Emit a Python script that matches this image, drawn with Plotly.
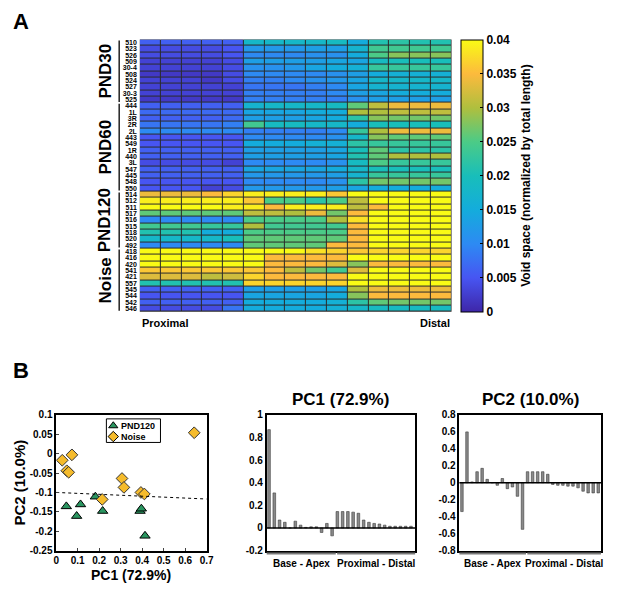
import plotly.graph_objects as go

# page has an 8px body margin, so the figure is 16px smaller than the window
PAD = 8
W, H = 617 - 2 * PAD, 595 - 2 * PAD

# ---- panel A data: void space (x0.001) per row, 15 segments proximal -> distal
pnd30_ids = ["510", "523", "526", "509", "30-4", "508", "524", "527", "30-3", "525"]
pnd30_void = [
    [6, 6, 6, 6, 6, 18, 18, 18, 18, 19, 15, 21, 22, 21, 21],
    [4, 4, 4, 4, 5, 12, 12, 12, 13, 13, 17, 24, 24, 24, 24],
    [4, 4, 4, 4, 5, 10, 10, 10, 11, 11, 15, 25, 28, 28, 28],
    [3, 3, 3, 3, 4, 13, 13, 13, 13, 14, 14, 19, 20, 20, 20],
    [3, 3, 3, 3, 4, 11, 11, 12, 14, 15, 16, 23, 23, 23, 23],
    [2, 2, 2, 2, 4, 10, 10, 10, 10, 11, 13, 15, 16, 16, 16],
    [3, 3, 3, 2, 4, 9, 9, 10, 11, 12, 14, 18, 18, 18, 18],
    [3, 3, 3, 3, 3, 8, 8, 8, 9, 10, 14, 17, 17, 17, 17],
    [3, 3, 3, 3, 3, 9, 9, 9, 9, 10, 13, 14, 15, 15, 15],
    [2, 2, 2, 2, 2, 9, 9, 9, 9, 9, 11, 13, 13, 13, 13],
]
pnd60_ids = ["444", "1L", "3R", "2R", "2L", "443", "549", "1R", "440", "3L", "547", "445", "548", "550"]
pnd60_void = [
    [6, 6, 6, 6, 6, 17, 18, 18, 18, 19, 26, 31, 34, 34, 34],
    [7, 7, 7, 7, 7, 14, 14, 14, 15, 15, 30, 30, 31, 31, 31],
    [6, 6, 6, 6, 7, 13, 13, 13, 14, 15, 22, 28, 27, 27, 27],
    [8, 8, 8, 8, 9, 24, 19, 19, 18, 18, 15, 20, 20, 20, 20],
    [10, 10, 10, 10, 10, 9, 9, 9, 9, 10, 23, 30, 34, 34, 34],
    [5, 5, 5, 5, 5, 10, 10, 10, 10, 11, 18, 28, 26, 26, 26],
    [5, 5, 5, 5, 5, 15, 15, 15, 16, 16, 22, 23, 23, 23, 23],
    [6, 6, 6, 6, 6, 13, 13, 13, 13, 14, 20, 26, 22, 22, 22],
    [6, 6, 6, 6, 6, 13, 13, 13, 13, 14, 21, 26, 30, 30, 30],
    [4, 4, 4, 4, 3, 10, 10, 10, 10, 11, 19, 25, 23, 23, 23],
    [6, 6, 6, 6, 6, 14, 14, 14, 14, 15, 18, 20, 20, 20, 20],
    [6, 6, 6, 6, 6, 12, 12, 12, 12, 13, 17, 23, 23, 23, 23],
    [5, 5, 5, 5, 5, 10, 10, 10, 10, 11, 22, 27, 27, 27, 27],
    [5, 5, 5, 3, 4, 12, 12, 12, 12, 13, 14, 15, 15, 15, 15],
]
pnd120_ids = ["514", "512", "511", "517", "516", "515", "518", "520", "492"]
pnd120_void = [
    [34, 34, 34, 35, 37, 39, 39, 39, 39, 36, 40, 40, 40, 40, 40],
    [39, 39, 39, 39, 39, 36, 25, 25, 22, 25, 31, 40, 40, 40, 40],
    [40, 40, 40, 40, 39, 39, 35, 39, 39, 39, 31, 35, 40, 40, 40],
    [26, 26, 26, 26, 26, 31, 31, 30, 34, 27, 35, 40, 40, 40, 40],
    [10, 10, 10, 10, 10, 25, 25, 25, 25, 30, 38, 40, 40, 40, 40],
    [24, 24, 24, 23, 23, 30, 24, 24, 24, 24, 35, 40, 40, 40, 40],
    [21, 21, 21, 15, 15, 25, 25, 25, 25, 25, 35, 40, 40, 40, 40],
    [18, 18, 18, 18, 20, 26, 26, 26, 26, 26, 35, 40, 40, 40, 40],
    [10, 10, 10, 10, 10, 26, 26, 26, 26, 35, 35, 40, 40, 40, 40],
]
noise_ids = ["418", "416", "420", "541", "421", "557", "545", "544", "542", "546"]
noise_void = [
    [40, 40, 40, 40, 40, 40, 40, 40, 38, 37, 36, 37, 37, 37, 37],
    [40, 40, 40, 40, 40, 40, 35, 35, 35, 35, 40, 40, 40, 40, 40],
    [40, 40, 40, 40, 40, 40, 35, 35, 35, 33, 28, 35, 35, 35, 35],
    [36, 36, 36, 36, 36, 36, 35, 31, 27, 24, 33, 40, 40, 40, 40],
    [33, 33, 33, 31, 32, 37, 35, 35, 35, 35, 40, 40, 40, 40, 40],
    [21, 21, 21, 21, 21, 37, 37, 37, 37, 37, 40, 40, 40, 40, 40],
    [6, 6, 6, 6, 6, 13, 13, 13, 13, 14, 30, 34, 34, 34, 34],
    [5, 5, 5, 5, 5, 14, 14, 14, 14, 15, 28, 35, 35, 35, 35],
    [6, 6, 6, 6, 6, 15, 15, 15, 15, 16, 22, 26, 27, 27, 27],
    [4, 4, 4, 4, 8, 15, 15, 15, 15, 16, 18, 19, 19, 19, 19],
]
groups = [("PND30", pnd30_ids, pnd30_void), ("PND60", pnd60_ids, pnd60_void),
          ("PND120", pnd120_ids, pnd120_void), ("Noise", noise_ids, noise_void)]
cbar_ticks = [0, 0.005, 0.01, 0.015, 0.02, 0.025, 0.03, 0.035, 0.04]

# ---- panel B data
pnd120_pc1 = [0.047, 0.113, 0.095, 0.182, 0.216, 0.390, 0.396, 0.413]
pnd120_pc2 = [-0.136, -0.131, -0.161, -0.111, -0.148, -0.148, -0.142, -0.212]
noise_pc1 = [0.028, 0.073, 0.049, 0.058, 0.306, 0.315, 0.214, 0.394, 0.410, 0.642]
noise_pc2 = [-0.017, -0.003, -0.044, -0.048, -0.064, -0.087, -0.118, -0.100, -0.104, 0.054]
fit_x = [0, 0.7]
fit_y = [-0.100, -0.117]

pc1_base_apex = [0.87, 0.31, 0.07, 0.05, 0.0, 0.06, 0.025, 0.005, 0.01, 0.01, -0.04, 0.04, -0.07]
pc1_prox_dist = [0.145, 0.145, 0.145, 0.14, 0.13, 0.07, 0.05, 0.04, 0.035, 0.025, 0.015, 0.015, 0.015, 0.015, 0.015]
pc2_base_apex = [-0.34, 0.60, 0.01, 0.13, 0.17, 0.04, 0.0, -0.03, 0.05, -0.07, -0.05, -0.16, -0.55]
pc2_prox_dist = [0.13, 0.13, 0.13, 0.13, 0.10, -0.02, -0.03, -0.03, -0.04, -0.04, -0.06, -0.10, -0.12, -0.12, -0.12]

parula = [
    [0.0, "rgb(62,38,168)"], [0.125, "rgb(71,85,242)"], [0.25, "rgb(45,138,243)"],
    [0.375, "rgb(20,172,220)"], [0.5, "rgb(24,190,186)"], [0.625, "rgb(75,203,135)"],
    [0.75, "rgb(175,191,62)"], [0.875, "rgb(252,186,61)"], [1.0, "rgb(249,251,21)"],
]
GREEN, GOLD = "#2a9560", "#f5bb2c"


def px(x):
    return (x - PAD) / W


def py(y):
    return 1 - (y - PAD) / H


FONT = "Arial"
BOLD = dict(family=FONT, color="black", weight="bold")

row_ids, z = [], []
for name, ids, vals in groups:
    row_ids += ids
    z += [[v / 1000 for v in r] for r in vals]
nrow = len(row_ids)
ncol = len(z[0])

fig = go.Figure()

fig.add_trace(go.Heatmap(
    z=z, x=list(range(ncol)), y=list(range(nrow)), zmin=0, zmax=0.04,
    colorscale=parula, xgap=1, ygap=1, xaxis="x", yaxis="y",
    colorbar=dict(x=px(466), xanchor="left", y=py(35), yanchor="top",
                  len=277 / H, lenmode="fraction", thickness=22, xpad=0, ypad=0,
                  outlinecolor="black", outlinewidth=1,
                  tickvals=cbar_ticks, ticktext=[f"{t:g}" for t in cbar_ticks],
                  ticks="inside", ticklen=3, tickcolor="black",
                  tickfont=dict(size=12, **BOLD),
                  title=dict(text="Void space (normalized by total length)", side="right",
                             font=dict(size=12, **BOLD))),
))

# scatter
fig.add_trace(go.Scatter(x=pnd120_pc1, y=pnd120_pc2, mode="markers", name="PND120",
                         xaxis="x2", yaxis="y2", showlegend=False,
                         marker=dict(symbol="triangle-up", size=9, color=GREEN,
                                     line=dict(color="black", width=1))))
fig.add_trace(go.Scatter(x=noise_pc1, y=noise_pc2, mode="markers", name="Noise",
                         xaxis="x2", yaxis="y2", showlegend=False,
                         marker=dict(symbol="diamond", size=9, color=GOLD,
                                     line=dict(color="#333333", width=1))))
fig.add_trace(go.Scatter(x=fit_x, y=fit_y, mode="lines", showlegend=False,
                         xaxis="x2", yaxis="y2",
                         line=dict(color="black", width=1, dash="dot")))

# loadings
for ax, ba, pd_ in [("3", pc1_base_apex, pc1_prox_dist), ("4", pc2_base_apex, pc2_prox_dist)]:
    vals = ba + pd_
    fig.add_trace(go.Bar(x=list(range(len(vals))), y=vals, width=0.5, showlegend=False,
                         xaxis="x" + ax, yaxis="y" + ax,
                         marker=dict(color="#8a8a8a", line=dict(color="#3a3a3a", width=0.6))))

# hand-made legend symbols, placed on a pixel overlay axis
legend_names = ["PND120", "Noise"]
legend_sym = ["triangle-up", "diamond"]
legend_col = [GREEN, GOLD]
leg_x, leg_y0, leg_dy = 112, 428, 11
fig.add_trace(go.Scatter(x=[leg_x] * 2, y=[leg_y0, leg_y0 + leg_dy], mode="markers",
                         xaxis="x5", yaxis="y5", showlegend=False, hoverinfo="skip",
                         marker=dict(symbol=legend_sym, size=8, color=legend_col,
                                     line=dict(color="black", width=1))))

heat_x = [px(139), px(456)]
heat_y = [py(312), py(35)]
sc_y = [py(555), py(417)]
dom = {"2": [px(54), px(207)], "3": [px(268), px(419)], "4": [px(464), px(608)]}
bar_xr = {"3": [-0.45, 27.8], "4": [-0.5, 27.55]}

box = dict(showline=True, mirror=True, linecolor="black", linewidth=1.5,
           showgrid=False, zeroline=False)

fig.update_layout(
    width=W, height=H, margin=dict(l=0, r=0, t=0, b=0),
    paper_bgcolor="white", plot_bgcolor="rgba(0,0,0,0)", showlegend=False,
    font=dict(family=FONT, color="black"),
    xaxis=dict(domain=heat_x, anchor="y", range=[-0.5, ncol - 0.5], showticklabels=False,
               showgrid=False, zeroline=False, ticks=""),
    yaxis=dict(domain=heat_y, anchor="x", range=[nrow - 0.5, -0.5], tickmode="array",
               tickvals=list(range(nrow)), ticktext=row_ids, ticks="",
               tickfont=dict(size=7, **BOLD), ticklabelstandoff=2,
               showgrid=False, zeroline=False),
    xaxis2=dict(domain=dom["2"], anchor="y2", range=[0, 0.7], tickvals=[0, 0.1, 0.2, 0.3, 0.4, 0.5, 0.6, 0.7],
                ticktext=["0", "0.1", "0.2", "0.3", "0.4", "0.5", "0.6", "0.7"],
                ticks="inside", ticklen=3, tickfont=dict(size=10, **BOLD), **box),
    yaxis2=dict(domain=sc_y, anchor="x2", range=[-0.25, 0.1],
                tickvals=[0.1, 0.05, 0, -0.05, -0.1, -0.15, -0.2, -0.25],
                ticktext=["0.1", "0.05", "0", "-0.05", "-0.1", "-0.15", "-0.2", "-0.25"],
                ticks="inside", ticklen=3, tickfont=dict(size=10, **BOLD), **box),
    xaxis3=dict(domain=dom["3"], anchor="y3", range=bar_xr["3"], showticklabels=False, ticks="", **box),
    yaxis3=dict(domain=sc_y, anchor="x3", range=[-0.2, 1], tickvals=[1, 0.8, 0.6, 0.4, 0.2, 0, -0.2],
                ticktext=["1", "0.8", "0.6", "0.4", "0.2", "0", "-0.2"], ticks="",
                tickfont=dict(size=10, **BOLD), **box),
    xaxis4=dict(domain=dom["4"], anchor="y4", range=bar_xr["4"], showticklabels=False, ticks="", **box),
    yaxis4=dict(domain=sc_y, anchor="x4", range=[-0.8, 0.8],
                tickvals=[0.8, 0.6, 0.4, 0.2, 0, -0.2, -0.4, -0.6, -0.8],
                ticktext=["0.8", "0.6", "0.4", "0.2", "0", "-0.2", "-0.4", "-0.6", "-0.8"], ticks="",
                tickfont=dict(size=10, **BOLD), **box),
    xaxis5=dict(domain=[0, 1], anchor="y5", range=[PAD, PAD + W], visible=False, fixedrange=True),
    yaxis5=dict(domain=[0, 1], anchor="x5", range=[PAD + H, PAD], visible=False, fixedrange=True),
)

shapes = []
ann = []
# dark grid behind heatmap cells
shapes.append(dict(type="rect", xref="paper", yref="paper", x0=heat_x[0], x1=heat_x[1],
                   y0=heat_y[0], y1=heat_y[1], fillcolor="#2b2b2b", line=dict(width=0), layer="below"))

# group brackets and labels
start = 0
for name, ids, vals in groups:
    end = start + len(ids) - 1
    shapes.append(dict(type="line", xref="paper", yref="y", x0=px(118), x1=px(118),
                       y0=start - 0.35, y1=end + 0.35, line=dict(color="black", width=1.3)))
    ann.append(dict(text=name, xref="paper", yref="y", x=px(104), y=(start + end) / 2,
                    xanchor="center", yanchor="middle",
                    textangle=-90, showarrow=False, font=dict(size=17, **BOLD)))
    start = end + 1

ann.append(dict(text="Proximal", xref="paper", yref="paper", x=heat_x[0], y=py(315),
                xanchor="left", yanchor="top", showarrow=False, font=dict(size=11, **BOLD)))
ann.append(dict(text="Distal", xref="paper", yref="paper", x=heat_x[1], y=py(315),
                xanchor="right", yanchor="top", showarrow=False, font=dict(size=11, **BOLD)))

ann.append(dict(text="A", xref="paper", yref="paper", x=px(PAD), y=py(2), xanchor="left",
                yanchor="top", showarrow=False, font=dict(size=22, **BOLD)))
ann.append(dict(text="B", xref="paper", yref="paper", x=px(PAD), y=py(357), xanchor="left",
                yanchor="top", showarrow=False, font=dict(size=22, **BOLD)))

ann.append(dict(text="PC1 (72.9%)", xref="paper", yref="paper", x=sum(dom["2"]) / 2, y=py(590),
                xanchor="center", yanchor="bottom", showarrow=False, font=dict(size=14, **BOLD)))
ann.append(dict(text="PC2 (10.0%)", xref="paper", yref="paper", x=px(17), y=sum(sc_y) / 2,
                xanchor="center", yanchor="middle",
                textangle=-90, showarrow=False, font=dict(size=15, **BOLD)))

# legend box (under the symbols) and names
shapes.append(dict(type="rect", xref="paper", yref="paper", x0=px(105), x1=px(160),
                   y0=py(445), y1=py(421), fillcolor="white", layer="below",
                   line=dict(color="black", width=1)))
for i, name in enumerate(legend_names):
    ann.append(dict(text=name, xref="paper", yref="paper", x=px(118), y=py(leg_y0 + i * leg_dy),
                    xanchor="left", yanchor="middle", showarrow=False, font=dict(size=9, **BOLD)))

for ax, title in [("3", "PC1 (72.9%)"), ("4", "PC2 (10.0%)")]:
    d0, d1 = dom[ax]
    r0, r1 = bar_xr[ax]

    def to_paper(v):
        return d0 + (v - r0) / (r1 - r0) * (d1 - d0)

    n_ba = len(pc1_base_apex)
    ann.append(dict(text=title, xref="paper", yref="paper", x=(d0 + d1) / 2, y=py(413),
                    xanchor="center", yanchor="bottom", showarrow=False, font=dict(size=17, **BOLD)))
    shapes.append(dict(type="line", xref="paper", yref="paper", x0=d0, x1=to_paper(n_ba - 0.3),
                       y0=py(558), y1=py(558), line=dict(color="#7a7a7a", width=2)))
    shapes.append(dict(type="line", xref="paper", yref="paper", x0=to_paper(n_ba - 0.05), x1=d1,
                       y0=py(558), y1=py(558), line=dict(color="#7a7a7a", width=2)))
    ann.append(dict(text="Base - Apex", xref="paper", yref="paper", x=(d0 + to_paper(n_ba - 0.3)) / 2,
                    y=py(561), xanchor="center", yanchor="top", showarrow=False, font=dict(size=10, **BOLD)))
    ann.append(dict(text="Proximal - Distal", xref="paper", yref="paper", x=(to_paper(n_ba - 0.05) + d1) / 2,
                    y=py(561), xanchor="center", yanchor="top", showarrow=False, font=dict(size=10, **BOLD)))
    # zero line
    shapes.append(dict(type="line", xref="paper", yref="y" + ax, x0=d0, x1=d1, y0=0, y1=0,
                       line=dict(color="black", width=1.5)))

fig.update_layout(shapes=shapes, annotations=ann)
fig.write_html("out.html")
